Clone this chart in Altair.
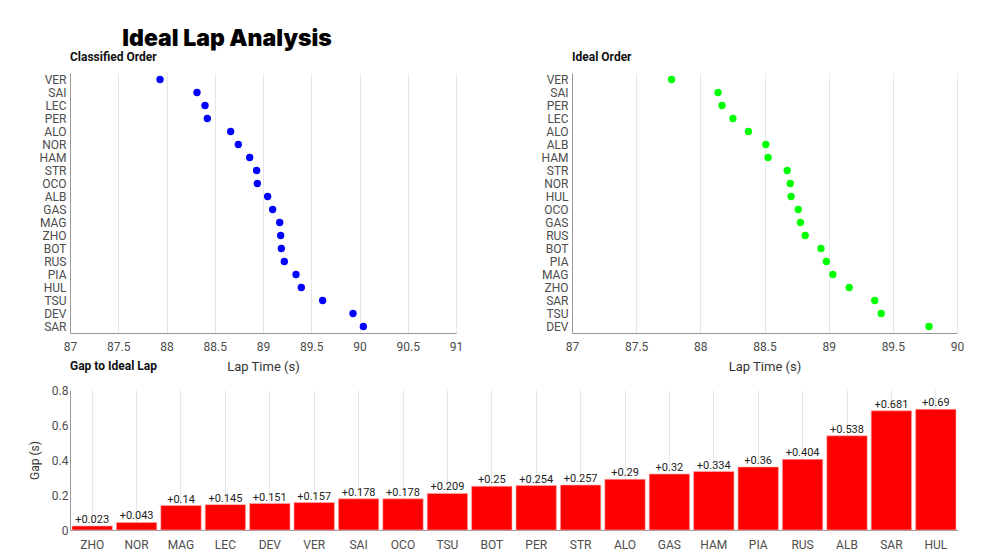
import altair as alt
import pandas as pd

classified_drivers = ["VER", "SAI", "LEC", "PER", "ALO", "NOR", "HAM", "STR", "OCO", "ALB",
                      "GAS", "MAG", "ZHO", "BOT", "RUS", "PIA", "HUL", "TSU", "DEV", "SAR"]
classified_times = [87.933, 88.316, 88.399, 88.423, 88.665, 88.744, 88.862, 88.934, 88.941, 89.048,
                    89.100, 89.173, 89.183, 89.190, 89.221, 89.342, 89.397, 89.618, 89.933, 90.040]

ideal_drivers = ["VER", "SAI", "PER", "LEC", "ALO", "ALB", "HAM", "STR", "NOR", "HUL",
                 "OCO", "GAS", "RUS", "BOT", "PIA", "MAG", "ZHO", "SAR", "TSU", "DEV"]
ideal_times = [87.776, 88.138, 88.169, 88.254, 88.375, 88.510, 88.528, 88.677, 88.701, 88.707,
               88.763, 88.780, 88.817, 88.940, 88.982, 89.033, 89.160, 89.359, 89.409, 89.782]

gap_drivers = ["ZHO", "NOR", "MAG", "LEC", "DEV", "VER", "SAI", "OCO", "TSU", "BOT",
               "PER", "STR", "ALO", "GAS", "HAM", "PIA", "RUS", "ALB", "SAR", "HUL"]
gap_values = [0.023, 0.043, 0.14, 0.145, 0.151, 0.157, 0.178, 0.178, 0.209, 0.25,
              0.254, 0.257, 0.29, 0.32, 0.334, 0.36, 0.404, 0.538, 0.681, 0.69]
gap_labels = ["+0.023", "+0.043", "+0.14", "+0.145", "+0.151", "+0.157", "+0.178", "+0.178",
              "+0.209", "+0.25", "+0.254", "+0.257", "+0.29", "+0.32", "+0.334", "+0.36",
              "+0.404", "+0.538", "+0.681", "+0.69"]

left_ticks = [87, 87.5, 88, 88.5, 89, 89.5, 90, 90.5, 91]
right_ticks = [87, 87.5, 88, 88.5, 89, 89.5, 90]
gap_ticks = [0, 0.2, 0.4, 0.6, 0.8]

df_class = pd.DataFrame({"driver": classified_drivers, "time": classified_times})
df_ideal = pd.DataFrame({"driver": ideal_drivers, "time": ideal_times})
df_gap = pd.DataFrame({"driver": gap_drivers, "gap": gap_values, "label": gap_labels})
df_gap_title = pd.DataFrame({"t": ["Gap to Ideal Lap"]})

FONT = "Roboto"

sub_title = dict(anchor="start", frame="group", fontSize=12, fontWeight="bold", font=FONT,
                 color="#111", offset=9)


def dot_chart(df, order, ticks, domain, color, title, width):
    return alt.Chart(df).mark_circle(size=54, opacity=1, color=color).encode(
        x=alt.X("time:Q", scale=alt.Scale(domain=domain, nice=False, zero=False),
                axis=alt.Axis(values=ticks, format="~g", grid=True, title="Lap Time (s)",
                              titlePadding=8, labelPadding=8, labelFlush=False)),
        y=alt.Y("driver:N", sort=order, scale=alt.Scale(type="point", padding=0.5),
                axis=alt.Axis(title=None, grid=False, labelPadding=4)),
    ).properties(width=width, height=260, title=alt.TitleParams(title, **sub_title))


left_dots = dot_chart(df_class, classified_drivers, left_ticks, [87, 91], "#0000ff",
                      "Classified Order", 386)
gap_title = alt.Chart(df_gap_title).mark_text(
    align="left", baseline="middle", fontSize=12, fontWeight="bold", font=FONT, color="#111"
).encode(x=alt.value(0), y=alt.value(293), text="t:N")
left = alt.layer(left_dots, gap_title)
right = dot_chart(df_ideal, ideal_drivers, right_ticks, [87, 90], "#00ff00", "Ideal Order", 385)

gap_axis = alt.Axis(values=gap_ticks, format="~g", grid=False, title="Gap (s)",
                    titleFontSize=12, titlePadding=10, labelOverlap=False, labelFlush=False)
gap_scale = alt.Scale(domain=[0, 0.8], nice=False)

base = alt.Chart(df_gap).encode(
    x=alt.X("driver:N", sort=gap_drivers,
            scale=alt.Scale(paddingInner=0.09, paddingOuter=0.045),
            axis=alt.Axis(title=None, labelAngle=0, grid=True, labelPadding=9)),
    y=alt.Y("gap:Q", scale=gap_scale, axis=gap_axis),
)
bars = base.mark_bar(color="#ff0000", stroke="#ffb0b0", strokeWidth=0.6)
labels = base.mark_text(baseline="bottom", dy=-1, fontSize=11, font=FONT, color="#222").encode(
    text="label:N"
)
bottom = alt.layer(bars, labels).properties(width=888, height=140)

top_row = alt.hconcat(left, right, spacing=78)
chart = alt.vconcat(top_row, bottom, spacing=11).properties(
    title=alt.TitleParams("Ideal Lap Analysis", anchor="start", fontSize=23, fontWeight=900,
                          font="Inter", color="#000", dx=94, offset=0),
    padding={"left": 20, "top": 20, "right": 5, "bottom": 5},
).configure_view(stroke=None).configure_axis(
    domainColor="#999", gridColor="#e6e6e6", labelColor="#4d4d4d", labelFont=FONT,
    labelFontSize=12, titleFont=FONT, titleFontWeight="normal", titleFontSize=13,
    titleColor="#333", ticks=False,
)

chart.save("out.html", embed_options={"renderer": "svg", "actions": False})
